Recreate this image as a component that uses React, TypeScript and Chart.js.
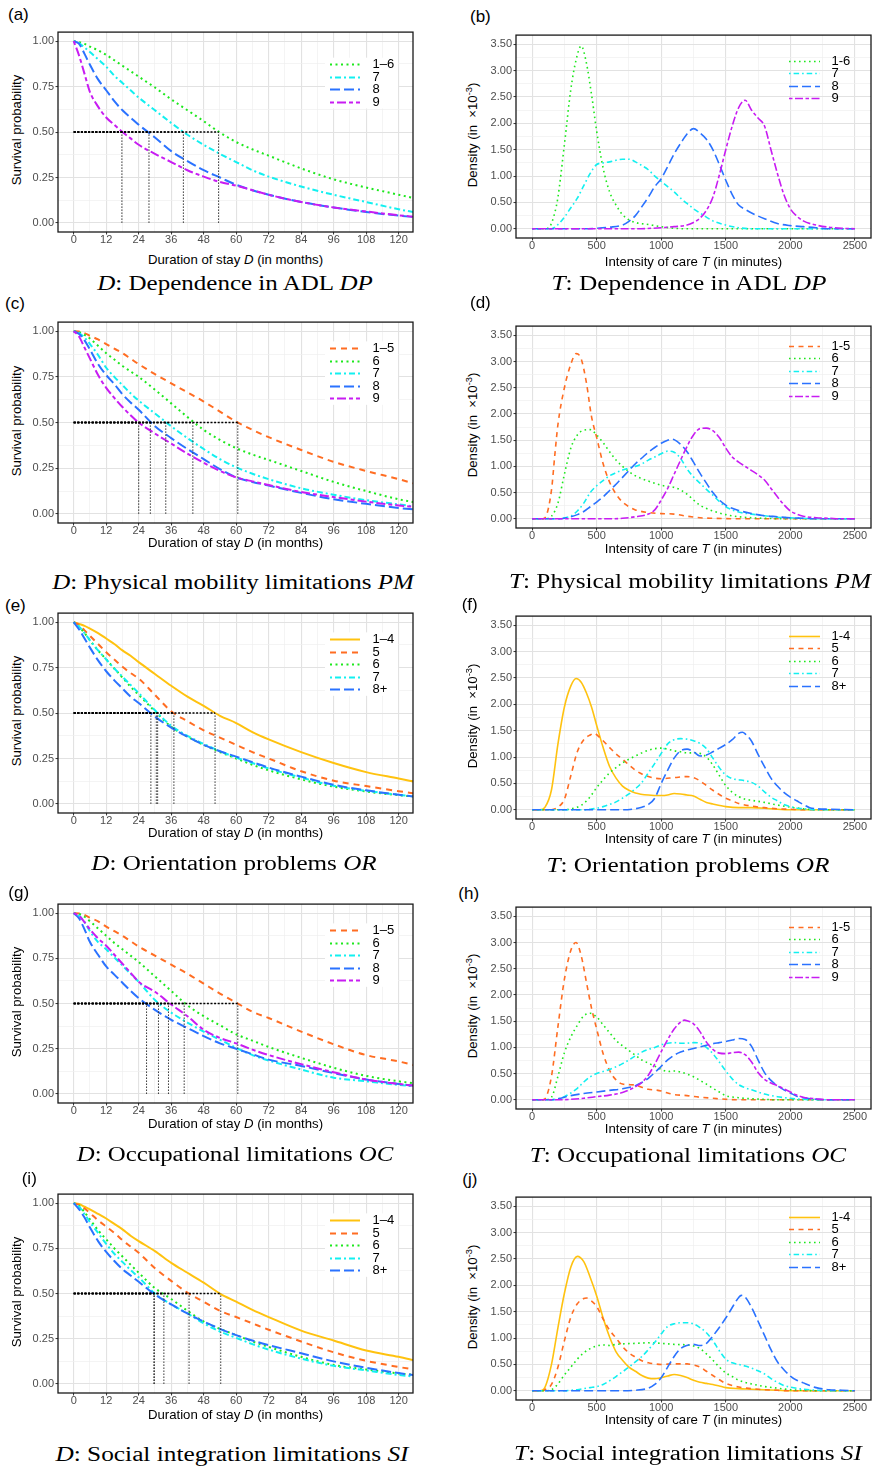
import React, { useEffect, useLayoutEffect, useRef } from 'react';
import { Chart, registerables } from 'chart.js';
Chart.register(...registerables);

// ---------------- DATA ----------------
// survival curves: month grid shared by all D panels
const months = [0, 2, 4, 6, 9, 12, 15, 18, 21, 24, 30, 36, 42, 48, 54, 60, 66, 72, 84, 96, 108, 120, 126];

// tick grids
const monthTicks = [0, 6, 12, 18, 24, 30, 36, 42, 48, 54, 60, 66, 72, 78, 84, 90, 96, 102, 108, 114, 120];
const survTicks = [0, 0.125, 0.25, 0.375, 0.5, 0.625, 0.75, 0.875, 1];
const minuteTicks = [0, 250, 500, 750, 1000, 1250, 1500, 1750, 2000, 2250, 2500];
const densTicks = [0, 0.25, 0.5, 0.75, 1, 1.25, 1.5, 1.75, 2, 2.25, 2.5, 2.75, 3, 3.25, 3.5];

// (a) Dependence in ADL – survival
const dpD_16 = [1, 0.995, 0.985, 0.97, 0.95, 0.925, 0.895, 0.865, 0.835, 0.805, 0.745, 0.68, 0.62, 0.56, 0.497, 0.445, 0.405, 0.37, 0.3, 0.24, 0.195, 0.155, 0.135];
const dpD_7 = [1, 0.99, 0.965, 0.94, 0.9, 0.86, 0.81, 0.77, 0.73, 0.69, 0.62, 0.55, 0.485, 0.43, 0.38, 0.335, 0.29, 0.255, 0.2, 0.155, 0.115, 0.075, 0.058];
const dpD_8 = [1, 0.985, 0.93, 0.87, 0.79, 0.73, 0.67, 0.62, 0.58, 0.54, 0.47, 0.395, 0.34, 0.29, 0.25, 0.21, 0.18, 0.155, 0.115, 0.085, 0.06, 0.04, 0.032];
const dpD_9 = [1, 0.92, 0.82, 0.72, 0.64, 0.58, 0.54, 0.5, 0.465, 0.43, 0.38, 0.335, 0.29, 0.255, 0.225, 0.205, 0.18, 0.155, 0.115, 0.085, 0.063, 0.042, 0.033];
const dpMedians = [53.5, 40.5, 27.8, 17.8];

// (c) Physical mobility – survival
const pmD_15 = [1, 0.998, 0.99, 0.975, 0.955, 0.93, 0.905, 0.88, 0.85, 0.82, 0.765, 0.715, 0.665, 0.615, 0.56, 0.505, 0.46, 0.42, 0.35, 0.285, 0.235, 0.19, 0.165];
const pmD_6 = [1, 0.995, 0.98, 0.96, 0.92, 0.88, 0.845, 0.81, 0.78, 0.75, 0.68, 0.605, 0.53, 0.46, 0.405, 0.36, 0.325, 0.295, 0.235, 0.175, 0.125, 0.08, 0.063];
const pmD_7 = [1, 0.99, 0.965, 0.93, 0.87, 0.8, 0.75, 0.705, 0.66, 0.62, 0.55, 0.48, 0.415, 0.355, 0.3, 0.255, 0.22, 0.19, 0.14, 0.105, 0.075, 0.052, 0.04];
const pmD_8 = [1, 0.985, 0.95, 0.9, 0.82, 0.76, 0.71, 0.655, 0.61, 0.57, 0.48, 0.415, 0.355, 0.3, 0.245, 0.2, 0.175, 0.155, 0.115, 0.08, 0.055, 0.032, 0.024];
const pmD_9 = [1, 0.97, 0.91, 0.85, 0.76, 0.69, 0.635, 0.585, 0.54, 0.5, 0.44, 0.385, 0.33, 0.28, 0.235, 0.2, 0.178, 0.158, 0.12, 0.092, 0.067, 0.046, 0.038];
const pmMedians = [60.6, 44, 34, 28.3, 24];

// (e) Orientation problems – survival
const orD_14 = [1, 0.99, 0.98, 0.965, 0.94, 0.91, 0.88, 0.845, 0.815, 0.78, 0.715, 0.65, 0.59, 0.54, 0.485, 0.445, 0.395, 0.355, 0.285, 0.225, 0.175, 0.14, 0.122];
const orD_5 = [1, 0.985, 0.955, 0.925, 0.88, 0.835, 0.795, 0.755, 0.72, 0.69, 0.6, 0.51, 0.455, 0.405, 0.365, 0.325, 0.285, 0.25, 0.18, 0.128, 0.098, 0.07, 0.057];
const orD_6 = [1, 0.975, 0.94, 0.9, 0.845, 0.795, 0.745, 0.695, 0.645, 0.6, 0.51, 0.425, 0.37, 0.325, 0.285, 0.25, 0.215, 0.185, 0.135, 0.095, 0.068, 0.048, 0.04];
const orD_7 = [1, 0.975, 0.94, 0.9, 0.845, 0.795, 0.745, 0.7, 0.655, 0.61, 0.515, 0.43, 0.375, 0.33, 0.29, 0.255, 0.225, 0.195, 0.145, 0.1, 0.072, 0.05, 0.04];
const orD_8 = [1, 0.96, 0.91, 0.86, 0.79, 0.73, 0.68, 0.635, 0.59, 0.555, 0.48, 0.42, 0.37, 0.325, 0.29, 0.26, 0.23, 0.2, 0.15, 0.105, 0.075, 0.05, 0.04];
const orMedians = [52.2, 37, 31, 30.5, 28.5];

// (g) Occupational limitations – survival
const ocD_15 = [1, 0.998, 0.99, 0.975, 0.955, 0.925, 0.9, 0.875, 0.845, 0.815, 0.765, 0.715, 0.665, 0.61, 0.555, 0.505, 0.455, 0.42, 0.345, 0.275, 0.215, 0.18, 0.158];
const ocD_6 = [1, 0.995, 0.98, 0.955, 0.915, 0.875, 0.835, 0.8, 0.765, 0.73, 0.65, 0.57, 0.49, 0.43, 0.38, 0.33, 0.295, 0.26, 0.2, 0.145, 0.1, 0.07, 0.058];
const ocD_7 = [1, 0.985, 0.95, 0.9, 0.84, 0.8, 0.755, 0.71, 0.665, 0.62, 0.52, 0.45, 0.395, 0.345, 0.3, 0.255, 0.215, 0.185, 0.135, 0.09, 0.07, 0.05, 0.042];
const ocD_8 = [1, 0.97, 0.91, 0.84, 0.77, 0.705, 0.66, 0.615, 0.57, 0.53, 0.465, 0.41, 0.365, 0.32, 0.28, 0.25, 0.22, 0.19, 0.155, 0.115, 0.08, 0.055, 0.045];
const ocD_9 = [1, 0.985, 0.95, 0.91, 0.86, 0.82, 0.77, 0.72, 0.67, 0.62, 0.565, 0.495, 0.43, 0.355, 0.31, 0.28, 0.245, 0.215, 0.165, 0.12, 0.08, 0.055, 0.045];
const ocMedians = [60.6, 40.8, 31.3, 26.9, 35];

// (i) Social integration – survival
const siD_14 = [1, 0.995, 0.98, 0.965, 0.94, 0.915, 0.885, 0.855, 0.82, 0.79, 0.735, 0.67, 0.615, 0.56, 0.5, 0.455, 0.41, 0.37, 0.295, 0.24, 0.185, 0.15, 0.13];
const siD_5 = [1, 0.99, 0.97, 0.945, 0.905, 0.87, 0.835, 0.795, 0.76, 0.725, 0.64, 0.57, 0.505, 0.455, 0.405, 0.37, 0.335, 0.3, 0.235, 0.175, 0.128, 0.094, 0.079];
const siD_6 = [1, 0.985, 0.95, 0.91, 0.85, 0.8, 0.75, 0.705, 0.66, 0.615, 0.53, 0.47, 0.405, 0.345, 0.305, 0.27, 0.235, 0.205, 0.15, 0.105, 0.08, 0.058, 0.05];
const siD_7 = [1, 0.98, 0.94, 0.895, 0.835, 0.775, 0.72, 0.675, 0.63, 0.59, 0.5, 0.44, 0.39, 0.335, 0.29, 0.255, 0.22, 0.19, 0.14, 0.1, 0.075, 0.05, 0.04];
const siD_8 = [1, 0.965, 0.92, 0.865, 0.79, 0.73, 0.68, 0.635, 0.6, 0.565, 0.495, 0.44, 0.39, 0.345, 0.305, 0.27, 0.24, 0.215, 0.17, 0.125, 0.09, 0.06, 0.048];
const siMedians = [54.3, 42.6, 33.3, 29.8, 29.6];

// densities [minutes, density ×10^-3]
const dpT_16 = [[0,0],[100,0],[130,0.02],[175,0.3],[200,0.6],[250,1.6],[300,2.65],[340,3.2],[380,3.47],[420,3.15],[460,2.55],[500,1.85],[550,1.15],[600,0.7],[650,0.45],[700,0.27],[750,0.17],[800,0.12],[900,0.08],[1000,0.04],[1100,0.01],[1200,0],[2500,0]];
const dpT_7 = [[0,0],[150,0],[200,0.08],[250,0.22],[300,0.4],[350,0.58],[400,0.82],[450,1.05],[500,1.22],[550,1.25],[600,1.27],[650,1.3],[700,1.32],[750,1.32],[800,1.27],[850,1.2],[900,1.12],[950,1.0],[1000,0.9],[1050,0.8],[1100,0.7],[1150,0.58],[1200,0.48],[1250,0.38],[1300,0.3],[1400,0.15],[1500,0.07],[1600,0.02],[1700,0],[2500,0]];
const dpT_8 = [[0,0],[400,0],[500,0.01],[600,0.03],[700,0.07],[750,0.14],[800,0.25],[850,0.42],[900,0.6],[950,0.8],[1000,0.95],[1050,1.18],[1100,1.42],[1150,1.62],[1200,1.8],[1250,1.9],[1300,1.82],[1350,1.7],[1400,1.5],[1450,1.22],[1500,0.92],[1550,0.65],[1600,0.45],[1650,0.37],[1700,0.3],[1800,0.19],[1900,0.1],[2000,0.06],[2100,0.04],[2200,0.02],[2300,0],[2500,0]];
const dpT_9 = [[0,0],[800,0],[1000,0.02],[1100,0.04],[1200,0.07],[1250,0.12],[1300,0.2],[1350,0.35],[1400,0.6],[1450,1.02],[1500,1.5],[1550,1.95],[1600,2.3],[1650,2.44],[1700,2.25],[1750,2.1],[1800,1.95],[1850,1.5],[1900,1.05],[1950,0.65],[2000,0.38],[2050,0.24],[2100,0.15],[2200,0.07],[2300,0.03],[2400,0.01],[2500,0]];

const pmT_15 = [[0,0],[80,0],[100,0.02],[150,0.55],[175,1.2],[200,1.8],[250,2.5],[300,2.95],[340,3.15],[380,3.05],[420,2.6],[460,1.95],[500,1.55],[550,1.05],[600,0.7],[650,0.47],[700,0.32],[750,0.23],[800,0.17],[900,0.12],[1000,0.1],[1100,0.09],[1200,0.05],[1300,0.02],[1400,0.01],[1600,0],[2500,0]];
const pmT_6 = [[0,0],[100,0],[150,0.05],[200,0.3],[250,0.85],[300,1.35],[350,1.6],[400,1.69],[450,1.7],[500,1.6],[550,1.45],[600,1.28],[650,1.12],[700,1.0],[750,0.9],[800,0.82],[900,0.72],[1000,0.64],[1100,0.6],[1150,0.55],[1200,0.47],[1250,0.36],[1300,0.26],[1400,0.15],[1500,0.08],[1600,0.04],[1700,0.02],[1800,0.01],[2000,0],[2500,0]];
const pmT_7 = [[0,0],[200,0],[250,0.02],[300,0.05],[350,0.15],[400,0.3],[450,0.5],[500,0.63],[550,0.73],[600,0.82],[650,0.88],[700,0.93],[750,0.97],[800,1.0],[850,1.05],[900,1.12],[950,1.18],[1000,1.24],[1050,1.29],[1100,1.27],[1150,1.15],[1200,0.95],[1250,0.8],[1300,0.68],[1350,0.56],[1400,0.45],[1450,0.33],[1500,0.23],[1600,0.13],[1700,0.09],[1800,0.06],[1900,0.03],[2000,0.02],[2100,0.01],[2200,0],[2500,0]];
const pmT_8 = [[0,0],[200,0],[250,0.01],[300,0.04],[350,0.08],[400,0.14],[450,0.23],[500,0.32],[550,0.42],[600,0.54],[650,0.66],[700,0.79],[750,0.92],[800,1.05],[850,1.16],[900,1.27],[950,1.36],[1000,1.44],[1050,1.5],[1080,1.52],[1100,1.51],[1150,1.42],[1200,1.28],[1250,1.08],[1300,0.87],[1350,0.68],[1400,0.5],[1450,0.36],[1500,0.26],[1550,0.2],[1600,0.16],[1700,0.1],[1800,0.06],[1900,0.04],[2000,0.02],[2100,0.01],[2200,0],[2500,0]];
const pmT_9 = [[0,0],[600,0],[700,0.01],[800,0.04],[900,0.09],[950,0.17],[1000,0.36],[1050,0.58],[1100,0.85],[1150,1.12],[1200,1.38],[1250,1.6],[1300,1.72],[1350,1.73],[1400,1.68],[1450,1.55],[1500,1.35],[1550,1.18],[1600,1.08],[1650,1.0],[1700,0.92],[1750,0.84],[1800,0.74],[1850,0.58],[1900,0.42],[1950,0.27],[2000,0.15],[2050,0.09],[2100,0.05],[2200,0.02],[2300,0.01],[2400,0],[2500,0]];

const orT_14 = [[0,0],[60,0],[100,0.05],[150,0.38],[200,1.25],[250,1.95],[300,2.35],[340,2.49],[380,2.42],[420,2.22],[460,1.95],[500,1.6],[550,1.18],[600,0.82],[650,0.6],[700,0.45],[750,0.37],[800,0.32],[900,0.28],[1000,0.27],[1050,0.28],[1100,0.31],[1150,0.3],[1200,0.28],[1250,0.26],[1300,0.2],[1350,0.14],[1400,0.11],[1500,0.06],[1600,0.04],[1700,0.04],[1800,0.03],[1900,0.01],[2000,0],[2500,0]];
const orT_5 = [[0,0],[150,0],[200,0.05],[250,0.2],[300,0.65],[350,1.1],[400,1.33],[450,1.42],[480,1.45],[520,1.38],[600,1.18],[650,1.06],[700,0.96],[750,0.85],[800,0.75],[850,0.68],[900,0.63],[950,0.6],[1000,0.59],[1100,0.61],[1200,0.63],[1250,0.61],[1300,0.55],[1350,0.46],[1400,0.37],[1450,0.29],[1500,0.22],[1550,0.17],[1600,0.12],[1700,0.07],[1800,0.04],[1900,0.02],[2000,0.01],[2100,0],[2500,0]];
const orT_6 = [[0,0],[250,0],[300,0.02],[350,0.05],[400,0.12],[450,0.25],[500,0.42],[550,0.57],[600,0.7],[650,0.8],[700,0.89],[750,0.96],[800,1.02],[850,1.08],[900,1.13],[950,1.16],[1000,1.17],[1050,1.15],[1100,1.12],[1150,1.1],[1200,1.08],[1250,1.08],[1300,1.07],[1350,1.0],[1400,0.85],[1450,0.65],[1500,0.46],[1550,0.33],[1600,0.25],[1650,0.2],[1700,0.18],[1750,0.16],[1800,0.14],[1900,0.09],[2000,0.05],[2100,0.02],[2200,0],[2500,0]];
const orT_7 = [[0,0],[400,0],[450,0.01],[500,0.03],[550,0.06],[600,0.1],[650,0.15],[700,0.22],[750,0.3],[800,0.4],[850,0.52],[900,0.7],[950,0.88],[1000,1.07],[1050,1.25],[1100,1.33],[1150,1.35],[1200,1.34],[1250,1.31],[1300,1.26],[1350,1.16],[1400,0.98],[1450,0.8],[1500,0.66],[1550,0.59],[1600,0.57],[1650,0.55],[1700,0.52],[1750,0.45],[1800,0.34],[1850,0.24],[1900,0.17],[1950,0.1],[2000,0.06],[2050,0.03],[2100,0.02],[2200,0],[2500,0]];
const orT_8 = [[0,0],[700,0],[800,0.02],[850,0.05],[900,0.1],[950,0.22],[1000,0.5],[1050,0.75],[1100,0.98],[1150,1.12],[1200,1.15],[1250,1.1],[1300,1.02],[1350,1.04],[1400,1.1],[1450,1.17],[1500,1.24],[1550,1.33],[1600,1.45],[1630,1.47],[1650,1.44],[1700,1.3],[1750,1.05],[1800,0.82],[1850,0.6],[1900,0.45],[1950,0.33],[2000,0.24],[2050,0.17],[2100,0.1],[2150,0.04],[2200,0.02],[2300,0.01],[2500,0]];

const ocT_15 = [[0,0],[80,0],[100,0.02],[150,0.45],[200,1.4],[250,2.3],[300,2.85],[340,3.0],[380,2.75],[420,2.25],[460,1.75],[500,1.35],[550,0.88],[600,0.56],[650,0.38],[700,0.3],[750,0.29],[800,0.28],[850,0.24],[900,0.2],[950,0.19],[1000,0.17],[1050,0.13],[1100,0.1],[1200,0.08],[1300,0.05],[1400,0.03],[1500,0.01],[1600,0],[2500,0]];
const ocT_6 = [[0,0],[100,0],[150,0.05],[200,0.45],[250,0.9],[300,1.2],[350,1.42],[400,1.6],[450,1.65],[500,1.58],[550,1.43],[600,1.28],[650,1.13],[700,1.03],[750,0.94],[800,0.85],[850,0.76],[900,0.7],[950,0.64],[1000,0.58],[1050,0.54],[1100,0.55],[1150,0.53],[1200,0.49],[1250,0.44],[1300,0.37],[1350,0.3],[1400,0.22],[1450,0.15],[1500,0.08],[1600,0.04],[1700,0.02],[1800,0.01],[1900,0],[2500,0]];
const ocT_7 = [[0,0],[150,0],[200,0.02],[250,0.06],[300,0.13],[350,0.22],[400,0.34],[450,0.44],[500,0.5],[550,0.54],[600,0.58],[650,0.63],[700,0.69],[750,0.76],[800,0.84],[850,0.91],[900,0.96],[950,1.0],[1000,1.05],[1050,1.08],[1100,1.09],[1150,1.08],[1200,1.08],[1250,1.09],[1300,1.08],[1350,1.0],[1400,0.88],[1450,0.72],[1500,0.55],[1550,0.4],[1600,0.29],[1650,0.23],[1700,0.19],[1750,0.15],[1800,0.11],[1900,0.06],[2000,0.03],[2100,0.01],[2200,0],[2500,0]];
const ocT_8 = [[0,0],[150,0],[200,0.02],[300,0.08],[400,0.12],[500,0.15],[600,0.18],[700,0.21],[800,0.27],[850,0.33],[900,0.41],[950,0.52],[1000,0.64],[1050,0.76],[1100,0.85],[1150,0.91],[1200,0.95],[1250,0.98],[1300,1.01],[1350,1.04],[1400,1.07],[1450,1.09],[1500,1.11],[1550,1.14],[1600,1.17],[1650,1.15],[1700,1.02],[1750,0.76],[1800,0.52],[1850,0.37],[1900,0.27],[1950,0.19],[2000,0.13],[2050,0.07],[2100,0.04],[2200,0.01],[2300,0],[2500,0]];
const ocT_9 = [[0,0],[200,0],[300,0.01],[400,0.03],[500,0.06],[600,0.09],[700,0.14],[800,0.25],[850,0.33],[900,0.47],[950,0.68],[1000,0.92],[1050,1.15],[1100,1.35],[1150,1.48],[1180,1.52],[1200,1.51],[1250,1.45],[1300,1.3],[1350,1.1],[1400,0.96],[1450,0.89],[1500,0.88],[1550,0.9],[1600,0.91],[1650,0.86],[1700,0.72],[1750,0.52],[1800,0.39],[1850,0.32],[1900,0.27],[1950,0.21],[2000,0.15],[2050,0.09],[2100,0.05],[2200,0.02],[2300,0],[2500,0]];

const siT_14 = [[0,0],[60,0],[100,0.07],[150,0.5],[200,1.2],[250,1.85],[300,2.35],[350,2.55],[400,2.45],[450,2.15],[500,1.8],[550,1.38],[600,1.02],[650,0.74],[700,0.58],[750,0.45],[800,0.37],[850,0.29],[900,0.24],[950,0.23],[1000,0.25],[1050,0.28],[1100,0.31],[1150,0.29],[1200,0.25],[1250,0.2],[1300,0.16],[1350,0.14],[1400,0.12],[1450,0.09],[1500,0.06],[1600,0.04],[1700,0.03],[1800,0.02],[1900,0.01],[2000,0],[2500,0]];
const siT_5 = [[0,0],[80,0],[100,0.02],[150,0.12],[200,0.45],[250,0.95],[300,1.4],[350,1.65],[400,1.75],[420,1.76],[450,1.72],[500,1.6],[550,1.36],[600,1.15],[650,1.0],[700,0.84],[750,0.72],[800,0.64],[850,0.57],[900,0.53],[950,0.51],[1000,0.5],[1100,0.51],[1200,0.51],[1250,0.49],[1300,0.45],[1350,0.37],[1400,0.29],[1450,0.21],[1500,0.14],[1600,0.07],[1700,0.04],[1800,0.02],[1900,0.01],[2000,0],[2500,0]];
const siT_6 = [[0,0],[100,0],[150,0.02],[200,0.13],[250,0.3],[300,0.45],[350,0.6],[400,0.72],[450,0.8],[500,0.85],[550,0.87],[600,0.86],[650,0.88],[700,0.89],[800,0.9],[900,0.91],[1000,0.9],[1100,0.88],[1200,0.87],[1250,0.85],[1300,0.8],[1350,0.7],[1400,0.58],[1450,0.45],[1500,0.34],[1550,0.27],[1600,0.2],[1650,0.16],[1700,0.13],[1800,0.08],[1900,0.05],[2000,0.02],[2100,0.01],[2200,0],[2500,0]];
const siT_7 = [[0,0],[250,0],[300,0.01],[350,0.02],[400,0.04],[450,0.06],[500,0.08],[550,0.12],[600,0.19],[650,0.27],[700,0.36],[750,0.45],[800,0.55],[850,0.65],[900,0.78],[950,0.92],[1000,1.08],[1050,1.22],[1100,1.27],[1150,1.29],[1200,1.29],[1250,1.27],[1300,1.2],[1350,1.1],[1400,0.95],[1450,0.76],[1500,0.6],[1550,0.53],[1600,0.5],[1650,0.47],[1700,0.43],[1750,0.38],[1800,0.32],[1850,0.23],[1900,0.16],[1950,0.1],[2000,0.07],[2100,0.03],[2200,0.01],[2300,0],[2500,0]];
const siT_8 = [[0,0],[700,0],[800,0.01],[900,0.05],[950,0.12],[1000,0.25],[1050,0.45],[1100,0.65],[1150,0.8],[1200,0.86],[1250,0.88],[1300,0.86],[1350,0.9],[1400,1.04],[1450,1.2],[1500,1.38],[1550,1.58],[1600,1.77],[1620,1.81],[1650,1.78],[1700,1.58],[1750,1.32],[1800,1.05],[1850,0.78],[1900,0.55],[1950,0.4],[2000,0.28],[2050,0.2],[2100,0.15],[2150,0.1],[2200,0.06],[2300,0.02],[2400,0.01],[2500,0]];

// group labels
const grpDP_D = ['1–6', '7', '8', '9'];
const grpDP_T = ['1-6', '7', '8', '9'];
const grp5_D = ['1–5', '6', '7', '8', '9'];
const grp5_T = ['1-5', '6', '7', '8', '9'];
const grp4_D = ['1–4', '5', '6', '7', '8+'];
const grp4_T = ['1-4', '5', '6', '7', '8+'];

// ---------------- STYLE ----------------
const SANS = '"Liberation Sans", Arial, Helvetica, sans-serif';
const SERIF = '"Liberation Serif", "Times New Roman", serif';
Chart.defaults.font.family = SANS;

const COL = {
  yellow: '#FFC20F',
  orange: '#FF6D22',
  green: '#1DE81D',
  cyan: '#12F0F0',
  blue: '#2A72FF',
  purple: '#C81CF2',
};
const DASH_D: any = { solid: [], dashed: [6, 5], dotted: [2, 3.5], dotdash: [2, 3, 6, 3], longdash: [10, 4], twodash: [4, 3, 9, 3] };
const DASH_T: any = { solid: [], dashed: [5, 4.5], dotted: [1.6, 3.4], dotdash: [1.6, 3, 5.5, 3], longdash: [9, 4], twodash: [3.5, 2.5, 8, 2.5] };

const STY_DP = [['green', 'dotted'], ['cyan', 'dotdash'], ['blue', 'longdash'], ['purple', 'twodash']];
const STY_5 = [['orange', 'dashed'], ['green', 'dotted'], ['cyan', 'dotdash'], ['blue', 'longdash'], ['purple', 'twodash']];
const STY_4 = [['yellow', 'solid'], ['orange', 'dashed'], ['green', 'dotted'], ['cyan', 'dotdash'], ['blue', 'longdash']];

const surv = (vals: number[]) => months.map((m, i) => ({ x: m, y: vals[i] }));
const pts = (arr: number[][]) => arr.map(([x, y]) => ({ x, y }));

function mkSeries(labels: string[], styles: string[][], data: any[]) {
  return labels.map((l, i) => ({ label: l, color: (COL as any)[styles[i][0]], style: styles[i][1], data: data[i] }));
}

const LW = 58, LR = 413, RL = 516, RR = 871;

const PANELS: any[] = [
  { kind: 'D', L: LW, R: LR, T: 28, B: 232, series: mkSeries(grpDP_D, STY_DP, [dpD_16, dpD_7, dpD_8, dpD_9].map(surv)), medians: dpMedians,
    tag: '(a)', tagX: 8, tagY: 14, xTitleY: 260, capX: 234.5, capY: 283, capW: 275, capName: 'Dependence in ADL', capAbbr: 'DP' },
  { kind: 'T', L: RL, R: RR, T: 31, B: 238, series: mkSeries(grpDP_T, STY_DP, [dpT_16, dpT_7, dpT_8, dpT_9].map(pts)),
    tag: '(b)', tagX: 470, tagY: 15.5, xTitleY: 262, capX: 689, capY: 283, capW: 275, capName: 'Dependence in ADL', capAbbr: 'DP' },
  { kind: 'D', L: LW, R: LR, T: 318, B: 523, series: mkSeries(grp5_D, STY_5, [pmD_15, pmD_6, pmD_7, pmD_8, pmD_9].map(surv)), medians: pmMedians,
    tag: '(c)', tagX: 5, tagY: 303, xTitleY: 543.3, capX: 232.5, capY: 581.7, capW: 361.6, capName: 'Physical mobility limitations', capAbbr: 'PM' },
  { kind: 'T', L: RL, R: RR, T: 322, B: 528, series: mkSeries(grp5_T, STY_5, [pmT_15, pmT_6, pmT_7, pmT_8, pmT_9].map(pts)),
    tag: '(d)', tagX: 470, tagY: 302, xTitleY: 549, capX: 689.5, capY: 581, capW: 362.4, capName: 'Physical mobility limitations', capAbbr: 'PM' },
  { kind: 'D', L: LW, R: LR, T: 609, B: 813, series: mkSeries(grp4_D, STY_4, [orD_14, orD_5, orD_6, orD_7, orD_8].map(surv)), medians: orMedians,
    tag: '(e)', tagX: 5, tagY: 605, xTitleY: 833, capX: 234, capY: 863, capW: 285, capName: 'Orientation problems', capAbbr: 'OR' },
  { kind: 'T', L: RL, R: RR, T: 612, B: 819, series: mkSeries(grp4_T, STY_4, [orT_14, orT_5, orT_6, orT_7, orT_8].map(pts)),
    tag: '(f)', tagX: 461.7, tagY: 604, xTitleY: 839, capX: 688, capY: 865, capW: 283.3, capName: 'Orientation problems', capAbbr: 'OR' },
  { kind: 'D', L: LW, R: LR, T: 900, B: 1103, series: mkSeries(grp5_D, STY_5, [ocD_15, ocD_6, ocD_7, ocD_8, ocD_9].map(surv)), medians: ocMedians,
    tag: '(g)', tagX: 8.3, tagY: 891.7, xTitleY: 1124, capX: 235, capY: 1154, capW: 316.6, capName: 'Occupational limitations', capAbbr: 'OC' },
  { kind: 'T', L: RL, R: RR, T: 903, B: 1109, series: mkSeries(grp5_T, STY_5, [ocT_15, ocT_6, ocT_7, ocT_8, ocT_9].map(pts)),
    tag: '(h)', tagX: 458.3, tagY: 893, xTitleY: 1129, capX: 688, capY: 1155, capW: 316.7, capName: 'Occupational limitations', capAbbr: 'OC' },
  { kind: 'D', L: LW, R: LR, T: 1190, B: 1393, series: mkSeries(grp4_D, STY_4, [siD_14, siD_5, siD_6, siD_7, siD_8].map(surv)), medians: siMedians,
    tag: '(i)', tagX: 21.7, tagY: 1178, xTitleY: 1415, capX: 231.7, capY: 1454, capW: 353.3, capName: 'Social integration limitations', capAbbr: 'SI' },
  { kind: 'T', L: RL, R: RR, T: 1193, B: 1400, series: mkSeries(grp4_T, STY_4, [siT_14, siT_5, siT_6, siT_7, siT_8].map(pts)),
    tag: '(j)', tagX: 462.3, tagY: 1179, xTitleY: 1420, capX: 687.5, capY: 1453, capW: 348.4, capName: 'Social integration limitations', capAbbr: 'SI' },
];

// ---------------- CHART ----------------
const YW = 32, XH = 20, PT = 4, PR = 2;

const isMajor = (v: number, step: number) => Math.abs(v / step - Math.round(v / step)) < 1e-6;

function makePlugin(p: any) {
  const isD = p.kind === 'D';
  const lw = isD ? 2 : 1.6;
  const dashes = isD ? DASH_D : DASH_T;
  const geo = isD
    ? { keyL: -83, keyR: -53, textX: -40.5, cy: 51, gap: 12.6, box: true }
    : { keyL: -82, keyR: -51, textX: -39.5, cy: 44.6, gap: 12.5, box: false };
  const n = p.series.length;
  return {
    id: 'frameLegend',
    beforeDatasetsDraw(chart: any) {
      if (!geo.box) return;
      const { ctx, chartArea } = chart;
      const y0 = chartArea.top + geo.cy - ((n - 1) / 2) * geo.gap;
      ctx.save();
      ctx.fillStyle = '#ffffff';
      ctx.fillRect(chartArea.right - 88, y0 - 6.5, 73, (n - 1) * geo.gap + 13);
      ctx.restore();
    },
    afterDatasetsDraw(chart: any) {
      const { ctx, chartArea } = chart;
      const y0 = chartArea.top + geo.cy - ((n - 1) / 2) * geo.gap;
      ctx.save();
      p.series.forEach((s: any, i: number) => {
        const y = Math.round(y0 + i * geo.gap) + 0.5;
        ctx.beginPath();
        ctx.setLineDash(dashes[s.style]);
        ctx.strokeStyle = s.color;
        ctx.lineWidth = lw;
        ctx.lineCap = 'butt';
        ctx.moveTo(chartArea.right + geo.keyL, y);
        ctx.lineTo(chartArea.right + geo.keyR, y);
        ctx.stroke();
        ctx.setLineDash([]);
        ctx.fillStyle = '#000';
        ctx.font = `13px ${SANS}`;
        ctx.textBaseline = 'middle';
        ctx.textAlign = 'left';
        ctx.fillText(s.label, chartArea.right + geo.textX, y);
      });
      ctx.restore();
    },
    afterDraw(chart: any) {
      const { ctx, chartArea } = chart;
      ctx.save();
      ctx.strokeStyle = '#1a1a1a';
      ctx.lineWidth = 1.3;
      ctx.setLineDash([]);
      ctx.strokeRect(chartArea.left, chartArea.top, chartArea.right - chartArea.left, chartArea.bottom - chartArea.top);
      ctx.restore();
    },
  };
}

function buildConfig(p: any) {
  const isD = p.kind === 'D';
  const lw = isD ? 2 : 1.6;
  const dashes = isD ? DASH_D : DASH_T;
  const n = p.series.length;
  const datasets: any[] = p.series.map((s: any, i: number) => ({
    label: s.label,
    data: s.data,
    borderColor: s.color,
    backgroundColor: s.color,
    borderWidth: lw,
    borderDash: dashes[s.style],
    borderCapStyle: 'butt',
    pointRadius: 0,
    fill: false,
    cubicInterpolationMode: 'monotone',
    order: n - i + 1,
  }));
  (p.medians || []).forEach((m: number) => {
    datasets.push({ data: [{ x: 0, y: 0.5 }, { x: m, y: 0.5 }], borderColor: '#000', borderWidth: 1.6, borderDash: [2, 1.6], pointRadius: 0, tension: 0, fill: false, order: 0 });
    datasets.push({ data: [{ x: m, y: 0 }, { x: m, y: 0.5 }], borderColor: '#333', borderWidth: 1, borderDash: [1.5, 1.5], pointRadius: 0, tension: 0, fill: false, order: 0 });
  });
  const xStep = isD ? 12 : 500;
  const yStep = isD ? 0.25 : 0.5;
  const xTicks = isD ? monthTicks : minuteTicks;
  const yTicks = isD ? survTicks : densTicks;
  const grid = (step: number) => ({
    display: true,
    drawOnChartArea: true,
    drawTicks: true,
    tickLength: 2.5,
    tickWidth: 1,
    color: (c: any) => (c.tick && isMajor(c.tick.value, step) ? '#E2E2E2' : '#EFEFEF'),
    lineWidth: (c: any) => (c.tick && isMajor(c.tick.value, step) ? 1.1 : 0.7),
    tickColor: (c: any) => (c.tick && isMajor(c.tick.value, step) ? '#333333' : 'rgba(0,0,0,0)'),
  });
  return {
    type: 'line',
    data: { datasets },
    options: {
      responsive: false,
      animation: false,
      devicePixelRatio: 1,
      events: [],
      layout: { padding: { top: PT, right: PR, left: 0, bottom: 0 } },
      plugins: { legend: { display: false }, tooltip: { enabled: false }, title: { display: false } },
      scales: {
        x: {
          type: 'linear',
          min: isD ? -5.8 : -125,
          max: isD ? 125.3 : 2625,
          afterBuildTicks: (s: any) => { s.ticks = xTicks.map((v) => ({ value: v })); },
          afterFit: (s: any) => { s.height = XH; },
          border: { display: false },
          grid: grid(xStep),
          ticks: {
            autoSkip: false, maxRotation: 0, minRotation: 0, padding: -1.5,
            color: '#4D4D4D', font: { family: SANS, size: 11 },
            callback: (v: any) => (isMajor(Number(v), xStep) ? String(v) : ''),
          },
        },
        y: {
          type: 'linear',
          min: isD ? -0.05 : -0.175,
          max: isD ? 1.05 : 3.675,
          afterBuildTicks: (s: any) => { s.ticks = yTicks.map((v) => ({ value: v })); },
          afterFit: (s: any) => { s.width = YW; },
          border: { display: false },
          grid: grid(yStep),
          ticks: {
            autoSkip: false, padding: 1.5,
            color: '#4D4D4D', font: { family: SANS, size: 11 },
            callback: (v: any) => (isMajor(Number(v), yStep) ? Number(v).toFixed(2) : ''),
          },
        },
      },
    },
    plugins: [makePlugin(p)],
  };
}

function ChartPanel({ p }: { p: any }) {
  const ref = useRef<HTMLCanvasElement>(null);
  const w = YW + (p.R - p.L) + PR;
  const h = PT + (p.B - p.T) + XH;
  useEffect(() => {
    const chart = new Chart(ref.current as any, buildConfig(p) as any);
    return () => chart.destroy();
  }, []);
  return (
    <canvas
      ref={ref}
      width={w}
      height={h}
      style={{ position: 'absolute', left: p.L - YW, top: p.T - PT, width: w, height: h }}
    />
  );
}

function Caption({ p }: { p: any }) {
  const ref = useRef<HTMLDivElement>(null);
  useLayoutEffect(() => {
    const el = ref.current;
    if (!el) return;
    const nat = el.offsetWidth;
    if (nat > 0) el.style.transform = `translate(-50%, -50%) scaleX(${p.capW / nat})`;
  }, []);
  return (
    <div
      ref={ref}
      style={{
        position: 'absolute', left: p.capX, top: p.capY, transform: 'translate(-50%, -50%)',
        whiteSpace: 'nowrap', fontFamily: SERIF, fontSize: 20, lineHeight: 1, color: '#000',
      }}
    >
      <i>{p.kind}</i>: {p.capName} <i>{p.capAbbr}</i>
    </div>
  );
}

function PanelTexts({ p }: { p: any }) {
  const isD = p.kind === 'D';
  const cx = (p.L + p.R) / 2;
  const cy = (p.T + p.B) / 2;
  const base: any = { position: 'absolute', whiteSpace: 'nowrap', fontFamily: SANS, lineHeight: 1, color: '#000' };
  return (
    <>
      <div style={{ ...base, left: p.tagX, top: p.tagY, transform: 'translateY(-50%)', fontSize: 17 }}>{p.tag}</div>
      <div style={{ ...base, left: cx, top: p.xTitleY, transform: 'translate(-50%, -50%)', fontSize: 13.2 }}>
        {isD ? <>Duration of stay <i>D</i> (in months)</> : <>Intensity of care <i>T</i> (in minutes)</>}
      </div>
      <div style={{ ...base, left: isD ? 17.2 : 473, top: cy, transform: 'translate(-50%, -50%) rotate(-90deg)', fontSize: 13.2 }}>
        {isD ? 'Survival probability' : (
          <>Density (in&nbsp;&nbsp;×10<span style={{ fontSize: '0.7em', position: 'relative', top: '-0.55em' }}>-3</span>)</>
        )}
      </div>
      <Caption p={p} />
    </>
  );
}

export default function App() {
  useEffect(() => {
    document.body.style.margin = '0';
  }, []);
  return (
    <div style={{ position: 'absolute', left: 0, top: 0, width: 872, height: 1466, overflow: 'hidden', background: '#fff' }}>
      {PANELS.map((p, i) => (
        <React.Fragment key={i}>
          <ChartPanel p={p} />
          <PanelTexts p={p} />
        </React.Fragment>
      ))}
    </div>
  );
}
